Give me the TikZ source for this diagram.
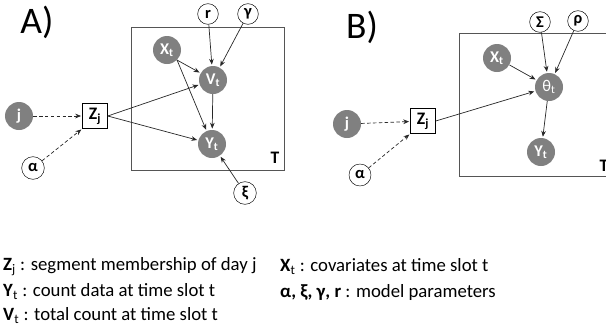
\documentclass[tikz,border=0pt]{standalone}
\usepackage{fontspec}
\setmainfont{Carlito}
\usetikzlibrary{arrows.meta}
\definecolor{nodegray}{RGB}{128,128,128}
\definecolor{plategray}{RGB}{85,85,85}
\definecolor{edgegray}{RGB}{40,40,40}
\tikzset{>={Stealth[length=5pt,width=4pt]}}
\tikzset{
  var/.style={circle, fill=nodegray, text=white, inner sep=0pt, minimum size=0.84cm,
    font=\bfseries\fontsize{14}{16}\selectfont},
  param/.style={circle, draw, thin, inner sep=0pt, minimum size=0.62cm,
    font=\bfseries\fontsize{14}{16}\selectfont},
  seg/.style={draw, thin, inner sep=0pt, minimum size=0.75cm,
    font=\bfseries\fontsize{15}{17}\selectfont},
  plate/.style={draw=plategray, thick},
  edge/.style={->, draw=edgegray, semithick, shorten >=1pt},
  dedge/.style={edge, densely dashed},
  legend/.style={anchor=west, inner sep=0pt, font=\fontsize{16}{19}\selectfont}
}

\begin{document}
\begin{tikzpicture}[x=0.03cm, y=-0.03cm]
  \useasboundingbox (0,0) rectangle (606,331);

  % panel A
  \node[font=\fontsize{32}{34}\selectfont] (ta) at (37,22) {A)};
  \draw[plate] (131,27) rectangle (284,170);
  \node[font=\bfseries\fontsize{15}{17}\selectfont] (pta) at (275,158) {T};
  \node[param] (ra) at (208,14) {r};
  \node[param] (ga) at (248,14) {γ};
  \node[var] (xa) at (167,50) {X\textsubscript{t}};
  \node[var] (va) at (213,80) {V\textsubscript{t}};
  \node[var] (ya) at (212,144) {Y\textsubscript{t}};
  \node[param, minimum size=0.68cm] (ka) at (245,193) {ξ};
  \node[seg] (za) at (95,116) {Z\textsubscript{j}};
  \node[var] (ja) at (19,116) {j};
  \node[param, minimum size=0.68cm] (aa) at (33,168) {α};
  \draw[edge] (ra) -- (va);
  \draw[edge] (ga) -- (va);
  \draw[edge] (xa.south east) -- (va);
  \draw[edge] (xa.south east) -- (ya);
  \draw[edge] (va) -- (ya);
  \draw[edge] (za.east) -- (va);
  \draw[edge] (za.east) -- (ya);
  \draw[edge] (ka) -- (ya);
  \draw[dedge] (ja) -- (za);
  \draw[dedge] (aa) -- (za.south west);

  % panel B
  \node[font=\fontsize{32}{34}\selectfont] (tb) at (362,27) {B)};
  \draw[plate] (459,33) rectangle (640,176);
  \node[font=\bfseries\fontsize{15}{17}\selectfont] (ptb) at (604,166) {T};
  \node[param] (sb) at (540,22) {Σ};
  \node[param] (pb) at (578,21) {ρ};
  \node[var] (xb) at (497,58) {X\textsubscript{t}};
  \node[var, font=\fontsize{14}{16}\selectfont] (hb) at (549,87) {θ\textsubscript{t}};
  \node[var] (yb) at (541,152) {Y\textsubscript{t}};
  \node[seg] (zb) at (423,121) {Z\textsubscript{j}};
  \node[var] (jb) at (347,124) {j};
  \node[param, minimum size=0.66cm] (ab) at (360,175) {α};
  \draw[edge] (sb) -- (hb);
  \draw[edge] (pb) -- (hb);
  \draw[edge] (xb) -- (hb);
  \draw[edge] (zb.east) -- (hb);
  \draw[edge] (hb) -- (yb);
  \draw[dedge] (jb) -- (zb);
  \draw[dedge] (ab) -- (zb.south west);

  % legend
  \node[legend] (l1) at (3,267) {\textbf{Z}\textsubscript{j} : segment membership of day j};
  \node[legend] (l2) at (3,292) {\textbf{Y}\textsubscript{t} : count data at time slot t};
  \node[legend] (l3) at (3,316) {\textbf{V}\textsubscript{t} : total count at time slot t};
  \node[legend] (l4) at (280,267) {\textbf{X}\textsubscript{t} : covariates at time slot t};
  \node[legend] (l5) at (280,292) {\textbf{α, ξ, γ, r} : model parameters};
\end{tikzpicture}
\end{document}
